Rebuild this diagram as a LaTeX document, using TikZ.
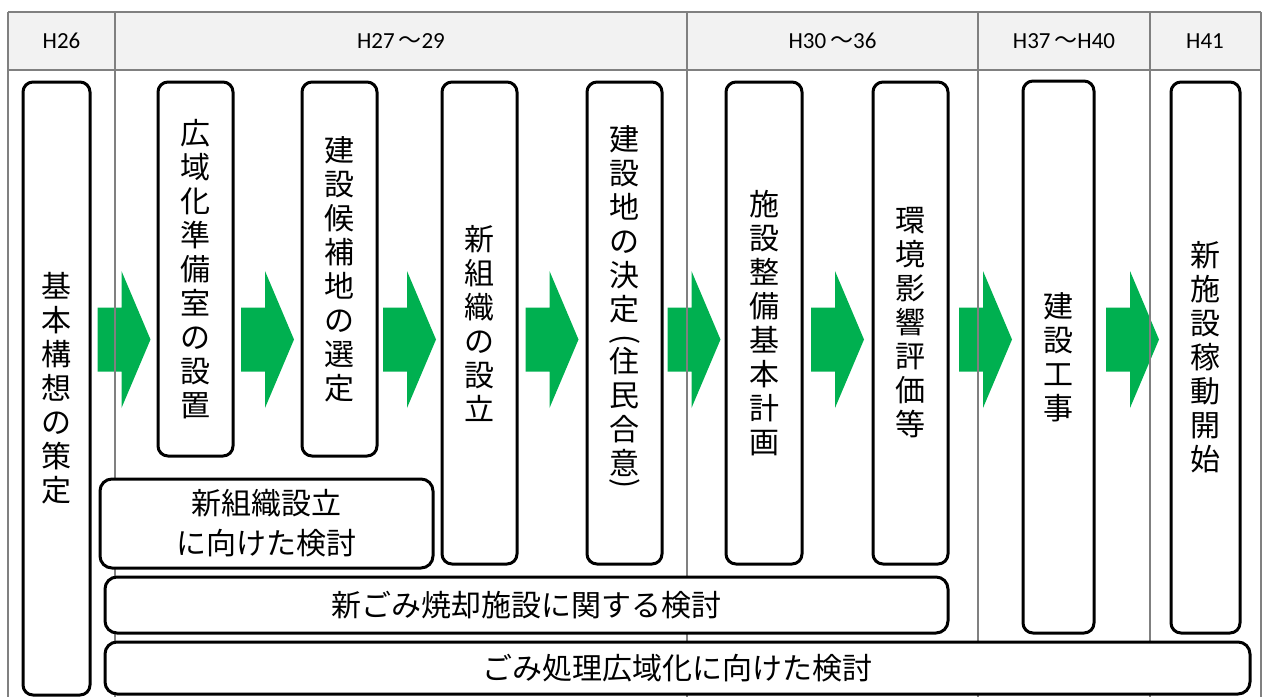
\documentclass[tikz,border=0pt]{standalone}
\usepackage{fontspec}
\newfontfamily\jp{Noto Sans CJK JP}
\newfontfamily\hdr{Carlito}
\usetikzlibrary{fit,calc}
\definecolor{gridgray}{HTML}{808080}
\definecolor{headfill}{HTML}{F2F2F2}
\definecolor{arrowgreen}{HTML}{00B050}
\pgfdeclarelayer{arrowlayer}
\pgfdeclarelayer{gridlayer}
\pgfsetlayers{arrowlayer,gridlayer,main}
\tikzset{
  procbox/.style={draw=black, line width=1.5pt, rounded corners=5pt, fill=white, inner sep=0pt},
  widebox/.style={procbox, rounded corners=6pt},
  vtext/.style={align=center, inner sep=0pt, font=\jp\fontsize{15}{17}\selectfont},
  htext/.style={align=center, inner sep=0pt, font=\jp\fontsize{15}{20}\selectfont},
  paren/.style={inner sep=0pt, rotate=-90, font=\jp\fontsize{15}{17}\selectfont},
  gridline/.style={draw=gridgray, line width=1pt},
  headtext/.style={font=\hdr\fontsize{11.5}{13}\selectfont, inner sep=0pt},
  barrow/.pic={\fill[arrowgreen] (-26.5,-32) -- (-2.5,-32) -- (-2.5,-68.5) -- (26.5,0)
     -- (-2.5,68.5) -- (-2.5,32) -- (-26.5,32) -- cycle;}
}
\begin{document}
\begin{tikzpicture}[x=0.5pt,y=-0.5pt]
\useasboundingbox (0,0) rectangle (1264,697);
% boxes
\node[procbox, fit={(23,82) (90,695)}] (kihon) {};
\node[procbox, fit={(158,82) (233,456)}] (koiki) {};
\node[procbox, fit={(302,82) (377,456)}] (kouho) {};
\node[procbox, fit={(442,82) (517,564)}] (soshiki) {};
\node[procbox, fit={(587,82) (662,564)}] (kenchi) {};
\node[procbox, fit={(726,82) (802,564)}] (seibi) {};
\node[procbox, fit={(873,82) (948,564)}] (kankyo) {};
\node[procbox, fit={(1023,81) (1094,633)}] (koji) {};
\node[procbox, fit={(1171,82) (1240,633)}] (kado) {};
\node[widebox, fit={(100,479) (433,568)}] (kento1) {};
\node[widebox, fit={(105,577) (948,633)}] (kento2) {};
\node[widebox, fit={(105,642) (1250,694)}] (kento3) {};
% texts
\node[vtext] (t-kihon) at (kihon.center) {基\\本\\構\\想\\の\\策\\定};
\node[vtext] (t-koiki) at (koiki.center) {広\\域\\化\\準\\備\\室\\の\\設\\置};
\node[vtext] (t-kouho) at (kouho.center) {建\\設\\候\\補\\地\\の\\選\\定};
\node[vtext] (t-soshiki) at (soshiki.center) {新\\組\\織\\の\\設\\立};
\node[vtext] (t-kenchi1) at (624.5,224) {建\\設\\地\\の\\決\\定};
\node[paren] (p-open) at (624.5,340) {(};
\node[vtext] (t-kenchi2) at (624.5,412) {住\\民\\合\\意};
\node[paren] (p-close) at (624.5,484) {)};
\node[vtext] (t-seibi) at (seibi.center) {施\\設\\整\\備\\基\\本\\計\\画};
\node[vtext] (t-kankyo) at (kankyo.center) {環\\境\\影\\響\\評\\価\\等};
\node[vtext] (t-koji) at (koji.center) {建\\設\\工\\事};
\node[vtext] (t-kado) at (kado.center) {新\\施\\設\\稼\\動\\開\\始};
\node[htext] (t-kento1) at (kento1.center) {新組織設立\\に向けた検討};
\node[htext] (t-kento2) at (kento2.center) {新ごみ焼却施設に関する検討};
\node[htext] (t-kento3) at (kento3.center) {ごみ処理広域化に向けた検討};
% header
\begin{pgfonlayer}{gridlayer}
\fill[headfill] (8,12) rectangle (1261,70);
\draw[gridline] (8,12) -- (1261,12);
\draw[gridline] (8,70) -- (1261,70);
\foreach \gx in {8,115,687,978,1150,1261} {\draw[gridline] (\gx,12) -- (\gx,697);}
\end{pgfonlayer}
\node[headtext] (h26) at (61.5,41) {H26};
\node[headtext] (h27) at (401,41) {H27\,{\jp ～}29};
\node[headtext] (h30) at (832.5,41) {H30\,{\jp ～}36};
\node[headtext] (h37) at (1064,41) {H37\,{\jp ～}H40};
\node[headtext] (h41) at (1205,41) {H41};
% arrows
\coordinate (arow) at (0,339.5);
\begin{pgfonlayer}{arrowlayer}
\foreach \a/\b [count=\i] in {kihon/koiki,koiki/kouho,kouho/soshiki,soshiki/kenchi,kenchi/seibi,seibi/kankyo,kankyo/koji,koji/kado} {
  \coordinate (m\i) at ($(\a.east)!0.5!(\b.west)$);
  \pic (arr\i) at (m\i |- arow) {barrow};
}
\end{pgfonlayer}
\end{tikzpicture}
\end{document}
